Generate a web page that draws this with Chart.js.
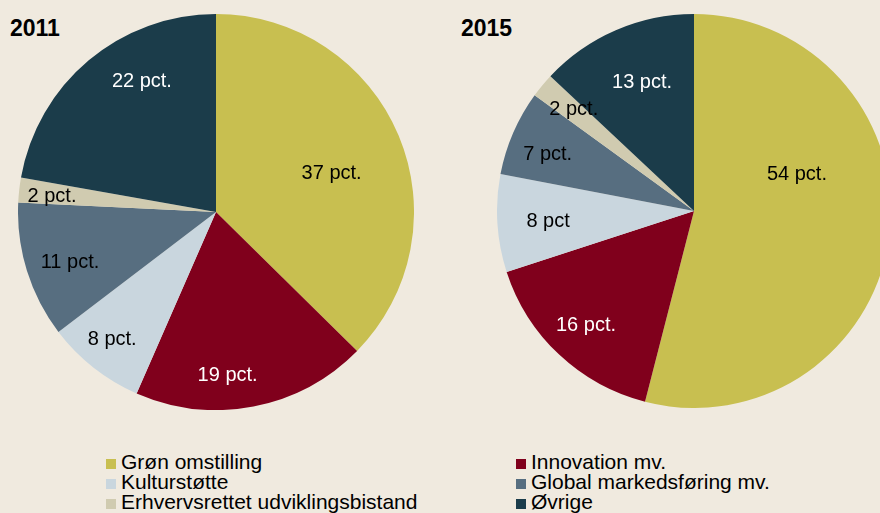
<!DOCTYPE html>
<html>
<head>
<meta charset="utf-8">
<script src="https://cdn.jsdelivr.net/npm/chart.js@4.4.0/dist/chart.umd.min.js"></script>
<style>
	html, body {
		margin: 0;
		padding: 0;
		width: 880px;
		height: 513px;
		overflow: hidden;
		background: #f0eadf;
		font-family: 'Liberation Sans', Arial, sans-serif;
	}
	.year {
		position: absolute;
		top: 15px;
		font-size: 23px;
		line-height: 26px;
		font-weight: bold;
		color: #000;
	}
	.pie {
		position: absolute;
		top: 14px;
	}
	#legend {
		position: absolute;
		left: 106px;
		top: 452px;
		width: 700px;
	}
	.item {
		position: absolute;
		font-size: 21px;
		line-height: 20px;
		color: #000;
		white-space: nowrap;
	}
	.item span {
		display: inline-block;
		width: 10px;
		height: 10px;
		margin-right: 5px;
		vertical-align: baseline;
	}
</style>
</head>
<body>
<div class="year" style="left:10px">2011</div>
<div class="year" style="left:461px">2015</div>
<canvas id="pie2011" class="pie" width="396" height="396" style="left:18px"></canvas>
<canvas id="pie2015" class="pie" width="394" height="394" style="left:497px"></canvas>
<div id="legend"></div>
<script>
const categories = [
	'Grøn omstilling',
	'Innovation mv.',
	'Kulturstøtte',
	'Global markedsføring mv.',
	'Erhvervsrettet udviklingsbistand',
	'Øvrige',
];
const colors = ['#c8bf50', '#80001c', '#c9d6de', '#576e80', '#d0cbb0', '#1b3c4a'];
const textColors = ['#000', '#fff', '#000', '#000', '#000', '#fff'];

const values2011 = [37, 19, 8, 11, 2, 22];
const labels2011 = ['37 pct.', '19 pct.', '8 pct.', '11 pct.', '2 pct.', '22 pct.'];

const values2015 = [54, 16, 8, 7, 2, 13];
const labels2015 = ['54 pct.', '16 pct.', '8 pct', '7 pct.', '2 pct.', '13 pct.'];

// label placement: radius fraction and angle nudge (degrees) per slice
const place2011 = { r: [0.618, 0.818, 0.823, 0.777, 0.833, 0.767], da: [3.6, 6.8, 1.4, -1.1, -0.3, 10.8] };
const place2015 = { r: [0.557, 0.792, 0.742, 0.8, 0.804, 0.713], da: [-27.5, 0.6, 0.3, -1.6, 1, 1.7] };

const sliceLabels = {
	id: 'sliceLabels',
	afterDatasetsDraw(chart, args, opts) {
		const ctx = chart.ctx;
		const meta = chart.getDatasetMeta(0);
		ctx.save();
		ctx.font = '20px "Liberation Sans", Arial, sans-serif';
		ctx.textAlign = 'center';
		ctx.textBaseline = 'alphabetic';
		meta.data.forEach((arc, i) => {
			const mid = (arc.startAngle + arc.endAngle) / 2 + (opts.da[i] * Math.PI) / 180;
			const r = arc.outerRadius * opts.r[i];
			const x = arc.x + Math.cos(mid) * r;
			const y = arc.y + Math.sin(mid) * r;
			ctx.fillStyle = textColors[i];
			// y is the middle of the digits
			ctx.fillText(opts.texts[i], x, y + 7.2);
		});
		ctx.restore();
	},
};

function makePie(id, values, texts, place) {
	new Chart(document.getElementById(id), {
		type: 'pie',
		data: {
			labels: categories,
			datasets: [
				{
					data: values,
					backgroundColor: colors,
					borderWidth: 0,
				},
			],
		},
		options: {
			responsive: false,
			animation: false,
			layout: { padding: 0 },
			plugins: {
				legend: { display: false },
				tooltip: { enabled: false },
				sliceLabels: { texts: texts, r: place.r, da: place.da },
			},
		},
		plugins: [sliceLabels],
	});
}

makePie('pie2011', values2011, labels2011, place2011);
makePie('pie2015', values2015, labels2015, place2015);

// legend, two columns, row by row
const legend = document.getElementById('legend');
categories.forEach((name, i) => {
	const col = i % 2;
	const row = Math.floor(i / 2);
	legend.insertAdjacentHTML(
		'beforeend',
		`<div class="item" style="left:${col * 410}px;top:${row * 20}px"><span style="background:${colors[i]}"></span>${name}</div>`
	);
});
</script>
</body>
</html>
